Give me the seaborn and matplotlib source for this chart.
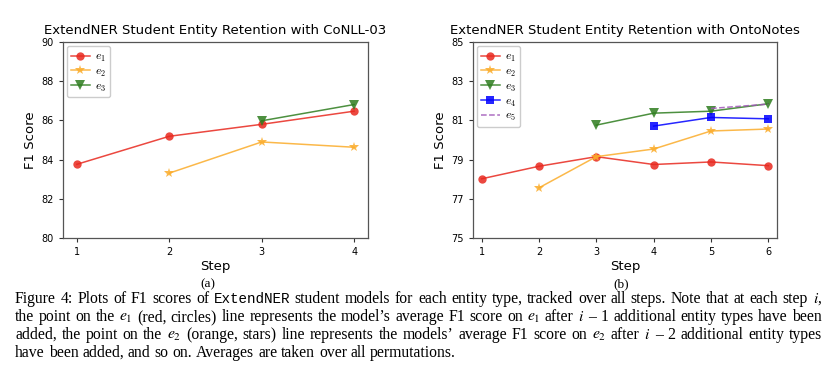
import numpy as np
import pandas as pd
import matplotlib
matplotlib.use("Agg")
import matplotlib.pyplot as plt
import seaborn as sns

# ----- data -----
steps_conll = [1, 2, 3, 4]
conll_e1 = [83.76, 85.19, 85.80, 86.47]
conll_e2 = [None, 83.31, 84.90, 84.63]
conll_e3 = [None, None, 85.98, 86.81]

steps_onto = [1, 2, 3, 4, 5, 6]
onto_e1 = [78.02, 78.66, 79.15, 78.75, 78.88, 78.69]
onto_e2 = [None, 77.56, 79.15, 79.54, 80.46, 80.56]
onto_e3 = [None, None, 80.76, 81.37, 81.47, 81.85]
onto_e4 = [None, None, None, 80.71, 81.15, 81.08]
onto_e5 = [None, None, None, None, 81.61, 81.83]

conll_yticks = [80, 82, 84, 86, 88, 90]
onto_yticks = [75, 77, 79, 81, 83, 85]

titles = ["ExtendNER Student Entity Retention with CoNLL-03",
          "ExtendNER Student Entity Retention with OntoNotes"]
sub_labels = ["(a)", "(b)"]

caption_lines = [
    "Figure 4: Plots of F1 scores of ExtendNER student models for each entity type, tracked over all steps. Note that at each step $i$,",
    "the point on the $e_1$ (red, circles) line represents the model\u2019s average F1 score on $e_1$ after $i$ \u2013 1 additional entity types have been",
    "added, the point on the $e_2$ (orange, stars) line represents the models\u2019 average F1 score on $e_2$ after $i$ \u2013 2 additional entity types",
    "have been added, and so on. Averages are taken over all permutations.",
]

# ----- series styles -----
styles = {
    "e1": dict(color="#e8281e", marker="o", ms=6, ls="-"),
    "e2": dict(color="#fbac2a", marker="*", ms=7.5, ls="-"),
    "e3": dict(color="#2e7d1e", marker="v", ms=6.5, ls="-"),
    "e4": dict(color="#0000ff", marker="s", ms=6, ls="-"),
    "e5": dict(color="#a056b8", marker=None, ms=0, ls="--"),
}

W, H = 830, 384
fig = plt.figure(figsize=(W / 100, H / 100), dpi=100)
ax1 = fig.add_axes([63 / W, 1 - 238 / H, 305 / W, 196 / H])
ax2 = fig.add_axes([473 / W, 1 - 238 / H, 304 / W, 196 / H])


def draw(ax, steps, series, yticks, title):
    for name, vals in series:
        df = pd.DataFrame({"step": steps, "f1": vals}).dropna()
        st = styles[name]
        sns.lineplot(data=df, x="step", y="f1", ax=ax, color=st["color"],
                     marker=st["marker"], markersize=st["ms"], linestyle=st["ls"],
                     linewidth=1.1, markeredgewidth=0, alpha=0.85,
                     label="$e_%s$" % name[1])
    ax.set_ylim(yticks[0], yticks[-1])
    ax.set_yticks(yticks)
    ax.set_xticks(steps)
    ax.set_xlim(steps[0] - 0.15, steps[-1] + 0.15)
    ax.tick_params(labelsize=7, length=3, color="#333333")
    for sp in ax.spines.values():
        sp.set_color("#555555")
        sp.set_linewidth(0.9)
    ax.set_xlabel("Step", fontsize=9.5, labelpad=2)
    ax.set_ylabel("F1 Score", fontsize=9.5, labelpad=3)
    ax.set_title(title, fontsize=9.5, pad=6)
    ax.legend(loc="upper left", prop={"size": 8.5, "math_fontfamily": "cm"},
              handlelength=1.6, handletextpad=0.5, borderpad=0.3,
              labelspacing=0.08, framealpha=1, borderaxespad=0.35)


draw(ax1, steps_conll, [("e1", conll_e1), ("e2", conll_e2), ("e3", conll_e3)],
     conll_yticks, titles[0])
draw(ax2, steps_onto, [("e1", onto_e1), ("e2", onto_e2), ("e3", onto_e3),
                       ("e4", onto_e4), ("e5", onto_e5)],
     onto_yticks, titles[1])

serif = ["Liberation Serif", "DejaVu Serif"]
fig.text(208 / W, 1 - 284 / H, sub_labels[0], ha="center", va="center",
         family=serif, fontsize=9.5)
fig.text(621 / W, 1 - 284 / H, sub_labels[1], ha="center", va="center",
         family=serif, fontsize=9.5)

# caption, word by word so lines 1-3 can be justified
renderer = fig.canvas.get_renderer()
x0, x1 = 15, 822
line_y = [299, 317, 335, 353]
cap_size = 11.3
for k, line in enumerate(caption_lines):
    words = line.split(" ")
    texts = []
    for w in words:
        fam = ["Liberation Mono"] if w == "ExtendNER" else serif
        t = fig.text(0, 1 - line_y[k] / H, w, ha="left", va="center", family=fam,
                     fontsize=cap_size if w != "ExtendNER" else cap_size - 1,
                     math_fontfamily="stix")
        texts.append(t)
    widths = [t.get_window_extent(renderer).width for t in texts]
    if k < 3:
        gap = (x1 - x0 - sum(widths)) / (len(words) - 1)
    else:
        gap = cap_size * 100 / 72 * 0.25
    x = x0
    for t, wd in zip(texts, widths):
        t.set_x(x / W)
        x += wd + gap

fig.savefig("out.png", dpi=100)
